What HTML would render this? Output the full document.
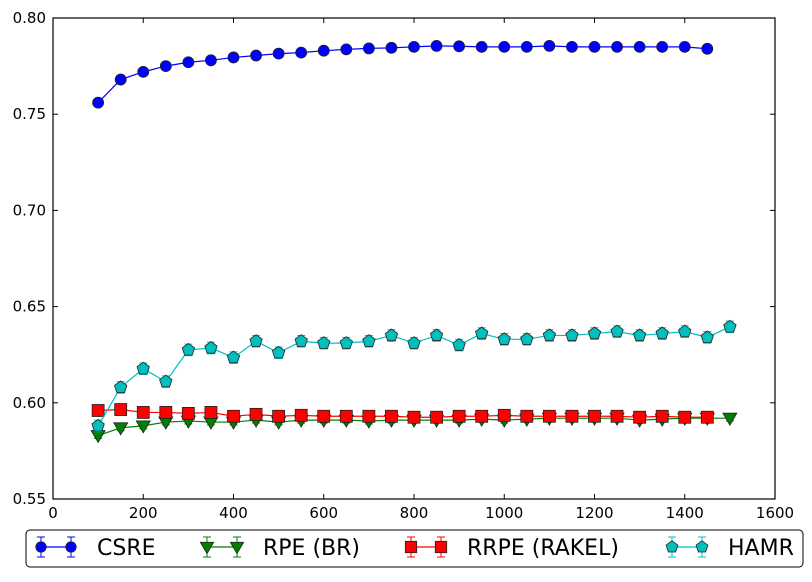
<!DOCTYPE html>
<html><head><meta charset="utf-8"><style>
body{margin:0;background:#fff;}
svg{font-family:"DejaVu Sans","Liberation Sans",sans-serif;}
</style></head><body>
<svg id="c" width="812" height="577" viewBox="0 0 812 577"></svg>
<script>
const xsCSRE=[100,150,200,250,300,350,400,450,500,550,600,650,700,750,800,850,900,950,1000,1050,1100,1150,1200,1250,1300,1350,1400,1450];
const csre=[0.756,0.768,0.772,0.775,0.777,0.778,0.7795,0.7805,0.7815,0.782,0.783,0.7837,0.7842,0.7845,0.785,0.7855,0.7853,0.785,0.785,0.785,0.7855,0.785,0.785,0.785,0.785,0.785,0.785,0.784];
const xsRPE=[100,150,200,250,300,350,400,450,500,550,600,650,700,750,800,850,900,950,1000,1050,1100,1150,1200,1250,1300,1350,1400,1450,1500];
const rpe=[0.583,0.587,0.588,0.590,0.5905,0.590,0.590,0.591,0.590,0.591,0.591,0.591,0.5905,0.591,0.591,0.591,0.591,0.5915,0.591,0.5915,0.592,0.592,0.592,0.592,0.591,0.5915,0.592,0.592,0.592];
const xsRRPE=[100,150,200,250,300,350,400,450,500,550,600,650,700,750,800,850,900,950,1000,1050,1100,1150,1200,1250,1300,1350,1400,1450];
const rrpe=[0.596,0.5965,0.595,0.595,0.5945,0.595,0.593,0.594,0.593,0.5935,0.593,0.593,0.593,0.593,0.5925,0.5925,0.593,0.593,0.5935,0.593,0.593,0.593,0.593,0.593,0.5925,0.593,0.5925,0.5925];
const xsHAMR=xsRPE;
const hamr=[0.588,0.608,0.6177,0.611,0.6275,0.6285,0.6235,0.632,0.626,0.632,0.631,0.631,0.632,0.635,0.631,0.635,0.630,0.636,0.633,0.633,0.635,0.635,0.636,0.637,0.635,0.636,0.637,0.634,0.6395];
const xTicks=[0,200,400,600,800,1000,1200,1400,1600];
const yTicks=[0.55,0.60,0.65,0.70,0.75,0.80];
const yTickLabels=["0.55","0.60","0.65","0.70","0.75","0.80"];
const L=53,R=775,T=18,B=499;
const sx=v=>L+(v-0)/1600*(R-L);
const sy=v=>B-(v-0.55)/0.25*(B-T);
const svg=document.getElementById('c');
const NS='http://www.w3.org/2000/svg';
function mk(t,a,p){const e=document.createElementNS(NS,t);for(const k in a)e.setAttribute(k,a[k]);(p||svg).appendChild(e);return e;}
function marker(type,x,y,fill,g,k){
  k=k||1;
  if(type==='o')return mk('circle',{cx:x,cy:y,r:5.5*k,fill:fill,stroke:'#222','stroke-width':0.8},g);
  if(type==='v')return mk('polygon',{points:`${x-7*k},${y-5*k} ${x+7*k},${y-5*k} ${x},${y+7*k}`,fill:fill,stroke:'#222','stroke-width':0.8},g);
  if(type==='s')return mk('rect',{x:x-6*k,y:y-6*k,width:12*k,height:12*k,fill:fill,stroke:'#222','stroke-width':0.8},g);
  let pts=[];for(let i=0;i<5;i++){const a=-Math.PI/2+i*2*Math.PI/5;pts.push((x+6.5*k*Math.cos(a)).toFixed(1)+','+(y+6.5*k*Math.sin(a)).toFixed(1));}
  return mk('polygon',{points:pts.join(' '),fill:fill,stroke:'#222','stroke-width':0.8},g);
}
mk('rect',{x:L,y:T,width:R-L,height:B-T,fill:'#fff',stroke:'none'});
const series=[
 {name:'csre',xs:xsCSRE,ys:csre,c:'#0000ff',m:'o',err:0.001},
 {name:'rpe',xs:xsRPE,ys:rpe,c:'#007f00',m:'v',err:0.0015},
 {name:'rrpe',xs:xsRRPE,ys:rrpe,c:'#ff0000',m:'s',err:0.001},
 {name:'hamr',xs:xsHAMR,ys:hamr,c:'#00bfbf',m:'p',err:0.003}
];
series.forEach(s=>{
  const g=mk('g',{});
  
  
  s.xs.forEach((x,i)=>{const X=sx(x),y1=sy(s.ys[i]+s.err),y2=sy(s.ys[i]-s.err);
    mk('line',{x1:X,x2:X,y1:y1,y2:y2,stroke:s.c,'stroke-width':1},g);
    mk('line',{x1:X-4,x2:X+4,y1:y1,y2:y1,stroke:s.c,'stroke-width':1},g);
    mk('line',{x1:X-4,x2:X+4,y1:y2,y2:y2,stroke:s.c,'stroke-width':1},g);});
  mk('polyline',{points:s.xs.map((x,i)=>sx(x)+','+sy(s.ys[i])).join(' '),fill:'none',stroke:s.c,'stroke-width':1.2},g);
  s.xs.forEach((x,i)=>{const m=marker(s.m,sx(x),sy(s.ys[i]),s.c,g);
    
    });
});
mk('rect',{x:L,y:T,width:R-L,height:B-T,fill:'none',stroke:'#000','stroke-width':1.2});
const ax=mk('g',{});


xTicks.forEach(t=>{const X=sx(t);
  mk('line',{x1:X,x2:X,y1:B,y2:B-5,stroke:'#000'},ax);mk('line',{x1:X,x2:X,y1:T,y2:T+5,stroke:'#000'},ax);
  const tx=mk('text',{x:X,y:B+19,'text-anchor':'middle','font-size':15},ax);tx.textContent=t;});
const ay=mk('g',{});


yTicks.forEach((t,i)=>{const Y=sy(t);
  mk('line',{x1:L,x2:L+5,y1:Y,y2:Y,stroke:'#000'},ay);mk('line',{x1:R,x2:R-5,y1:Y,y2:Y,stroke:'#000'},ay);
  const tx=mk('text',{x:L-7,y:Y+5,'text-anchor':'end','font-size':15},ay);tx.textContent=yTickLabels[i];});
const lg=mk('g',{});


mk('rect',{x:26,y:530,width:777,height:37,rx:4,fill:'#fff',stroke:'#000','stroke-width':1},lg);
const labels=['CSRE','RPE (BR)','RRPE (RAKEL)','HAMR'];
const lx=[56,222,426,687];
series.forEach((s,i)=>{const e=mk('g',{},lg);
  
  
  const cx=lx[i],cy=547;
  mk('line',{x1:cx-15,x2:cx+15,y1:cy,y2:cy,stroke:s.c,'stroke-width':1.2},e);
  [cx-15,cx+15].forEach(X=>{mk('line',{x1:X,x2:X,y1:cy-10,y2:cy+10,stroke:s.c},e);mk('line',{x1:X-4,x2:X+4,y1:cy-10,y2:cy-10,stroke:s.c},e);mk('line',{x1:X-4,x2:X+4,y1:cy+10,y2:cy+10,stroke:s.c},e);marker(s.m,X,cy,s.c,e,0.95);});
  const t=mk('text',{x:cx+41,y:cy+8,'font-size':22},e);t.textContent=labels[i];});
</script>
</body></html>
